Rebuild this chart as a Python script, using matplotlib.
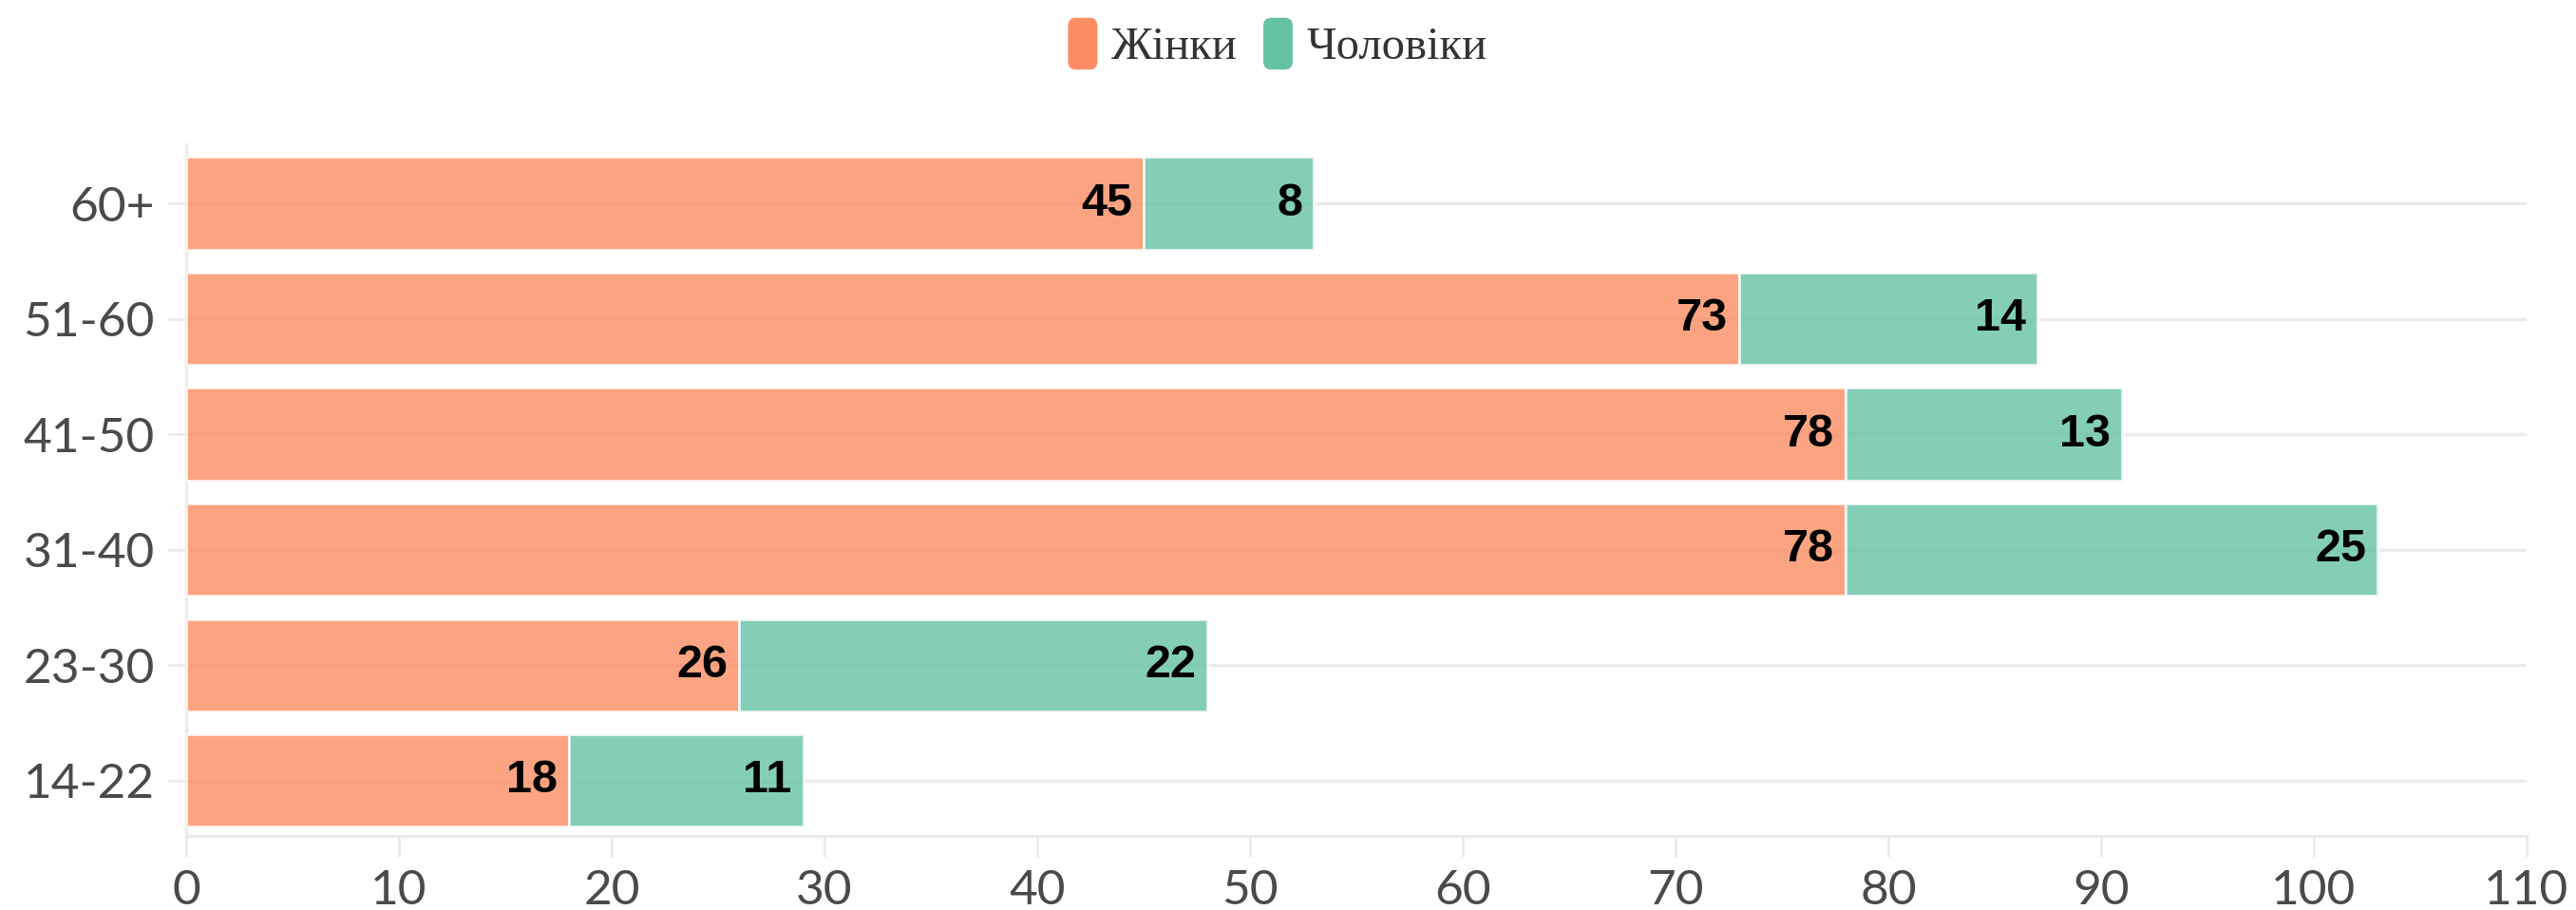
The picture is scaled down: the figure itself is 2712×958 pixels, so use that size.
import numpy as np
import matplotlib
matplotlib.use("Agg")
import matplotlib.pyplot as plt
from matplotlib.patches import Patch, FancyBboxPatch
from matplotlib.legend_handler import HandlerPatch

# data
age_groups = ["14-22", "23-30", "31-40", "41-50", "51-60", "60+"]
women = [18, 26, 78, 78, 73, 45]
men = [11, 22, 25, 13, 14, 8]
series_names = ["Жінки", "Чоловіки"]
x_ticks = list(range(0, 111, 10))

# style
c_women, c_men = "#fc8d62", "#66c2a5"
grid_c = "#ebebeb"
tick_c = "#4a4a4a"


def rounded_patch(legend, orig_handle, xdescent, ydescent, width, height, fontsize):
    return FancyBboxPatch((-xdescent + 2, -ydescent), width - 4, height,
                          boxstyle="round,pad=0,rounding_size=6", mutation_aspect=1)


def main():
    fig = plt.figure(figsize=(27.12, 9.58), dpi=100)
    ax = fig.add_axes([0.0723, 0.0814, 0.9085, 0.7599])

    y = np.arange(len(age_groups))
    ax.barh(y, women, height=0.8, color=c_women, alpha=0.8, edgecolor="white", linewidth=2, zorder=3)
    ax.barh(y, men, left=women, height=0.8, color=c_men, alpha=0.8, edgecolor="white", linewidth=2, zorder=3)

    # value labels
    for yi, w, m in zip(y, women, men):
        ax.annotate(str(w), (w, yi), xytext=(-12, 0), textcoords="offset pixels",
                    ha="right", va="center", fontsize=35, fontweight="bold",
                    family="Liberation Sans", color="black", zorder=4)
        ax.annotate(str(m), (w + m, yi), xytext=(-12, 0), textcoords="offset pixels",
                    ha="right", va="center", fontsize=35, fontweight="bold",
                    family="Liberation Sans", color="black", zorder=4)

    ax.set_xlim(0, 110)
    ax.set_ylim(-0.48, 5.51)
    ax.set_xticks(x_ticks)
    ax.set_yticks(y)
    ax.set_yticklabels(age_groups)
    ax.yaxis.grid(True, color=grid_c, linewidth=2.5, zorder=0)
    ax.xaxis.grid(False)

    for s in ["top", "right"]:
        ax.spines[s].set_visible(False)
    for s in ["left", "bottom"]:
        ax.spines[s].set_color(grid_c)
        ax.spines[s].set_linewidth(2.5)

    ax.tick_params(axis="x", length=16, width=2, color=grid_c, pad=9,
                   labelsize=37, labelcolor=tick_c)
    ax.tick_params(axis="y", length=14, width=2, color=grid_c, pad=10,
                   labelsize=37, labelcolor=tick_c)
    for lab in ax.get_xticklabels() + ax.get_yticklabels():
        lab.set_family("Lato")

    handles = [Patch(facecolor=c_women, label=series_names[0]),
               Patch(facecolor=c_men, label=series_names[1])]
    fig.legend(handles=handles, loc="center", bbox_to_anchor=(0.4955, 0.952), ncol=2,
               frameon=False, handlelength=0.75, handleheight=1.35, handletextpad=0.25,
               columnspacing=0.5, prop={"family": "Liberation Serif", "size": 35},
               labelcolor="#333333",
               handler_map={Patch: HandlerPatch(patch_func=rounded_patch)})

    fig.savefig("out.png", dpi=100, facecolor="white")


if __name__ == "__main__":
    main()
